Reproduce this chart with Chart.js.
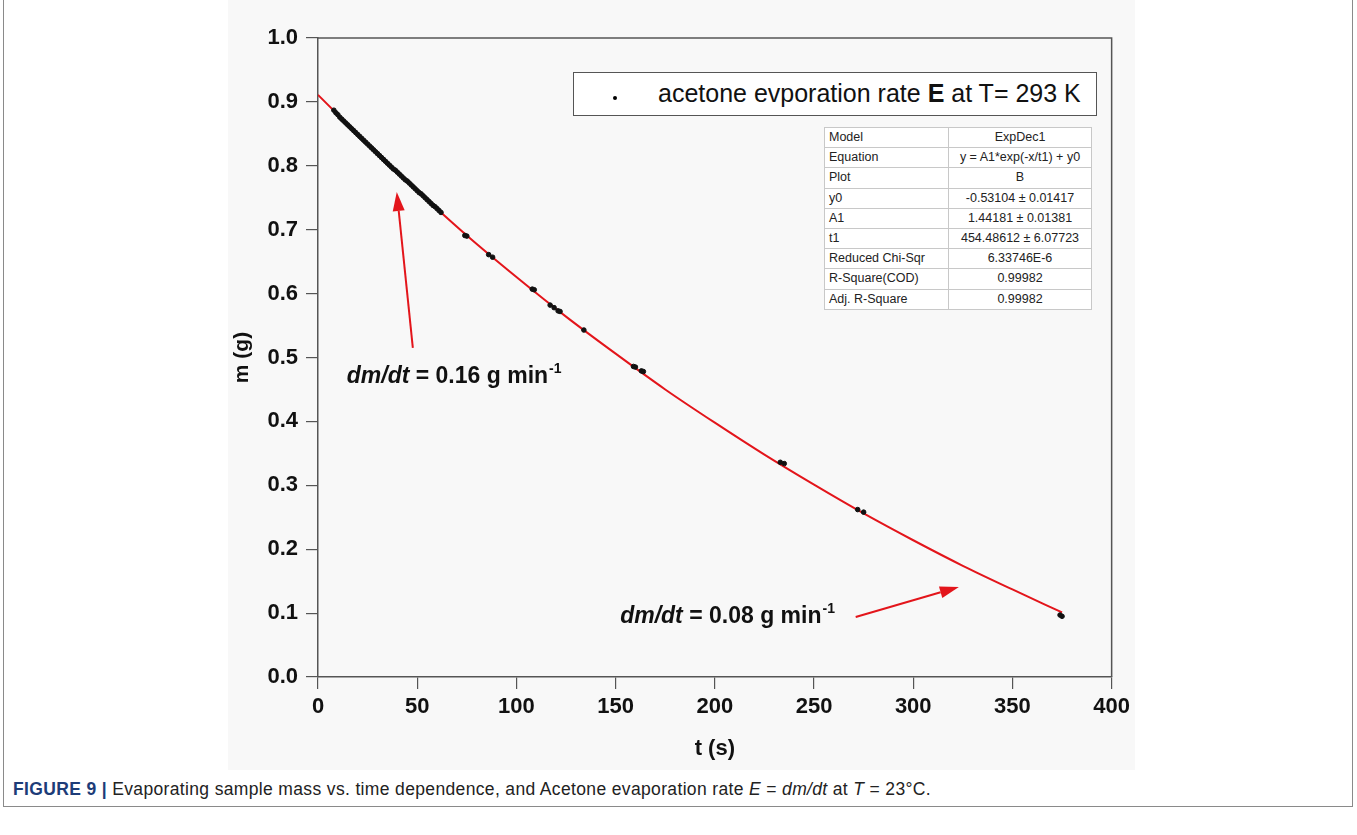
<!DOCTYPE html>
<html>
<head>
<meta charset="utf-8">
<script src="https://cdn.jsdelivr.net/npm/chart.js@4.4.1/dist/chart.umd.min.js"></script>
<style>
  html, body { margin:0; padding:0; background:#fff; width:1357px; height:835px; overflow:hidden; font-family:"Liberation Sans", Arial, sans-serif; }
  #frame { position:absolute; left:3px; top:0px; width:1350px; height:807px; border:1px solid #8a8a8a; border-top:none; box-sizing:border-box; }
  #figbg { position:absolute; left:228px; top:0px; width:907px; height:770px; background:#f8f8f8; }
  #wrap { position:absolute; left:228px; top:0px; width:907px; height:770px; }
  #legendBox { position:absolute; left:573px; top:72px; width:524px; height:44px; border:1.5px solid #555; background:#fff; box-sizing:border-box; }
  #legendDot { position:absolute; left:39px; top:23px; width:4px; height:4px; border-radius:50%; background:#000; }
  #legendText { position:absolute; left:84px; top:6px; font-size:25px; color:#111; white-space:nowrap; }
  #fitTable { position:absolute; left:824px; top:127px; width:268px; border-collapse:collapse; background:#fff; border:1.5px solid #777; font-size:12.5px; color:#222; }
  #fitTable td { height:19.2px; padding:0 4px; border:1px solid #c8c8c8; line-height:19px; white-space:nowrap; }
  #fitTable td.v { text-align:center; }
  #caption { position:absolute; left:13px; top:779px; font-size:17.5px; letter-spacing:0.35px; color:#222; white-space:nowrap; }
  #caption b { color:#1d3c78; }
</style>
</head>
<body>
<div id="frame"></div>
<div id="figbg"></div>
<div id="wrap"><canvas id="c" width="907" height="770"></canvas></div>
<div id="legendBox"><div id="legendDot"></div><div id="legendText">acetone evporation rate <b>E</b> at T= 293 K</div></div>
<table id="fitTable"></table>
<div id="caption"><b>FIGURE 9 |</b> Evaporating sample mass vs. time dependence, and Acetone evaporation rate <i>E</i> = <i>dm/dt</i> at <i>T</i> = 23°C.</div>
<script>
// ---- data ----
const fitTimes = [0, 25, 50, 75, 100, 125, 150, 175, 200, 225, 250, 275, 300, 325, 350, 375];
const fitMass  = [0.911, 0.834, 0.761, 0.691, 0.626, 0.564, 0.506, 0.450, 0.398, 0.348, 0.301, 0.256, 0.214, 0.174, 0.137, 0.101];

const sampleTimes = [8, 9, 10, 11, 12, 13, 14, 15, 16, 17, 18, 19, 20, 21, 22, 23, 24, 25, 26, 27, 28, 29, 30,
                     31, 32, 33, 34, 35, 36, 37, 38, 39, 40, 41, 42, 43, 44, 45, 46, 47, 48, 49, 50,
                     51, 52, 53, 54, 55, 56, 57, 58, 59, 60, 61, 62,
                     74, 75, 86, 88, 108, 109, 117, 119, 121, 122, 134, 159, 160, 163, 164, 233, 235, 272, 275, 374, 375];
const sampleMass  = [0.887, 0.883, 0.880, 0.876, 0.873, 0.870, 0.867, 0.864, 0.861, 0.858, 0.855, 0.852, 0.849, 0.846, 0.843, 0.840, 0.837, 0.834, 0.831, 0.828, 0.825, 0.822, 0.819,
                     0.816, 0.813, 0.810, 0.807, 0.804, 0.801, 0.798, 0.795, 0.793, 0.790, 0.787, 0.784, 0.781, 0.778, 0.776, 0.773, 0.770, 0.767, 0.764, 0.761,
                     0.758, 0.756, 0.753, 0.750, 0.747, 0.744, 0.741, 0.738, 0.736, 0.733, 0.730, 0.727,
                     0.691, 0.690, 0.661, 0.657, 0.607, 0.606, 0.582, 0.578, 0.573, 0.572, 0.543, 0.486, 0.485, 0.479, 0.478, 0.336, 0.334, 0.262, 0.258, 0.097, 0.095];

const xTickValues = [0, 50, 100, 150, 200, 250, 300, 350, 400];
const yTickValues = [0.0, 0.1, 0.2, 0.3, 0.4, 0.5, 0.6, 0.7, 0.8, 0.9, 1.0];

const legendLabel = "acetone evporation rate E at T= 293 K";
const tableLabels = ["Model", "Equation", "Plot", "y0", "A1", "t1", "Reduced Chi-Sqr", "R-Square(COD)", "Adj. R-Square"];
const tableValues = ["ExpDec1", "y = A1*exp(-x/t1) + y0", "B", "-0.53104 \u00b1 0.01417", "1.44181 \u00b1 0.01381", "454.48612 \u00b1 6.07723", "6.33746E-6", "0.99982", "0.99982"];

const rateLabels = ["0.16", "0.08"];
// annotation anchors in data units (t, m)
const arrowFrom = [[47.8, 0.515], [271, 0.094]];
const arrowTo   = [[39.7, 0.759], [323, 0.141]];
const labelAt   = [[14.5, 0.460], [152.3, 0.0845]];

// ---- table ----
const tbl = document.getElementById('fitTable');
tableLabels.forEach((l, i) => {
  const tr = document.createElement('tr');
  const a = document.createElement('td'); a.textContent = l; a.style.width = '115px';
  const b = document.createElement('td'); b.textContent = tableValues[i]; b.className = 'v';
  tr.appendChild(a); tr.appendChild(b); tbl.appendChild(tr);
});

const fitPoints = fitTimes.map((t, i) => ({x: t, y: fitMass[i]}));
const samplePoints = sampleTimes.map((t, i) => ({x: t, y: sampleMass[i]}));

const RED = '#e3151b';
const AXIS = '#555';
const FONT = '"Liberation Sans", Arial, sans-serif';

const framePlugin = {
  id: 'frame',
  afterDraw(chart) {
    const {ctx, chartArea: a} = chart;
    ctx.save();
    ctx.strokeStyle = AXIS; ctx.lineWidth = 1.5;
    ctx.beginPath();
    ctx.moveTo(a.left, a.top); ctx.lineTo(a.right, a.top); ctx.lineTo(a.right, a.bottom);
    ctx.stroke();
    ctx.restore();
  }
};

const annotationPlugin = {
  id: 'rateAnnotations',
  afterDatasetsDraw(chart) {
    const {ctx, scales: {x, y}} = chart;
    ctx.save();
    for (let i = 0; i < arrowFrom.length; i++) {
      const x0 = x.getPixelForValue(arrowFrom[i][0]), y0 = y.getPixelForValue(arrowFrom[i][1]);
      const x1 = x.getPixelForValue(arrowTo[i][0]),   y1 = y.getPixelForValue(arrowTo[i][1]);
      const ang = Math.atan2(y1 - y0, x1 - x0);
      const hl = 19, hw = 6;
      const bx = x1 - hl * Math.cos(ang), by = y1 - hl * Math.sin(ang);
      ctx.strokeStyle = RED; ctx.fillStyle = RED; ctx.lineWidth = 2;
      ctx.beginPath(); ctx.moveTo(x0, y0); ctx.lineTo(bx, by); ctx.stroke();
      ctx.beginPath();
      ctx.moveTo(x1, y1);
      ctx.lineTo(bx + hw * Math.sin(ang), by - hw * Math.cos(ang));
      ctx.lineTo(bx - hw * Math.sin(ang), by + hw * Math.cos(ang));
      ctx.closePath(); ctx.fill();

      // label
      let lx = x.getPixelForValue(labelAt[i][0]);
      const ly = y.getPixelForValue(labelAt[i][1]);
      ctx.fillStyle = '#111'; ctx.textBaseline = 'alphabetic'; ctx.textAlign = 'left';
      ctx.font = 'italic bold 23px ' + FONT;
      ctx.fillText('dm/dt', lx, ly); lx += ctx.measureText('dm/dt').width;
      ctx.font = 'bold 23px ' + FONT;
      const main = ' = ' + rateLabels[i] + ' g min';
      ctx.fillText(main, lx, ly); lx += ctx.measureText(main).width;
      ctx.font = 'bold 14px ' + FONT;
      ctx.fillText('-1', lx + 1, ly - 10);
    }
    ctx.restore();
  }
};

new Chart(document.getElementById('c'), {
  data: {
    datasets: [
      { type: 'line', label: 'fit', data: fitPoints, borderColor: RED, borderWidth: 2, pointRadius: 0,
        cubicInterpolationMode: 'monotone', fill: false, order: 2 },
      { type: 'scatter', label: legendLabel, data: samplePoints, backgroundColor: '#111', borderColor: '#111',
        pointRadius: 2.3, pointStyle: 'circle', order: 1 }
    ]
  },
  options: {
    responsive: false, animation: false, devicePixelRatio: 1,
    layout: { padding: { left: 0, right: 23, top: 38, bottom: 8 } },
    plugins: { legend: { display: false }, tooltip: { enabled: false } },
    scales: {
      x: {
        type: 'linear', min: 0, max: 400,
        afterFit(s) { s.height = 85; },
        afterBuildTicks(s) { s.ticks = xTickValues.map(v => ({value: v})); },
        ticks: { font: { family: FONT, size: 22, weight: 'bold' }, color: '#111', padding: 5, maxRotation: 0,
                 callback: v => String(v) },
        grid: { drawOnChartArea: false, drawTicks: true, tickLength: 12, color: AXIS, lineWidth: 1.2 },
        border: { color: AXIS, width: 1.5 },
        title: { display: true, text: 't (s)', font: { family: FONT, size: 22, weight: 'bold' }, color: '#111', padding: { top: 0, bottom: 0 } }
      },
      y: {
        type: 'linear', min: 0, max: 1,
        afterFit(s) { s.width = 90; },
        afterBuildTicks(s) { s.ticks = yTickValues.map(v => ({value: v})); },
        ticks: { font: { family: FONT, size: 22, weight: 'bold' }, color: '#111', padding: 8,
                 callback: v => Number(v).toFixed(1) },
        grid: { drawOnChartArea: false, drawTicks: true, tickLength: 12, color: AXIS, lineWidth: 1.2 },
        border: { color: AXIS, width: 1.5 },
        title: { display: true, text: 'm (g)', font: { family: FONT, size: 21, weight: 'bold' }, color: '#111', padding: { top: 2, bottom: 0 } }
      }
    }
  },
  plugins: [framePlugin, annotationPlugin]
});
</script>
</body>
</html>
